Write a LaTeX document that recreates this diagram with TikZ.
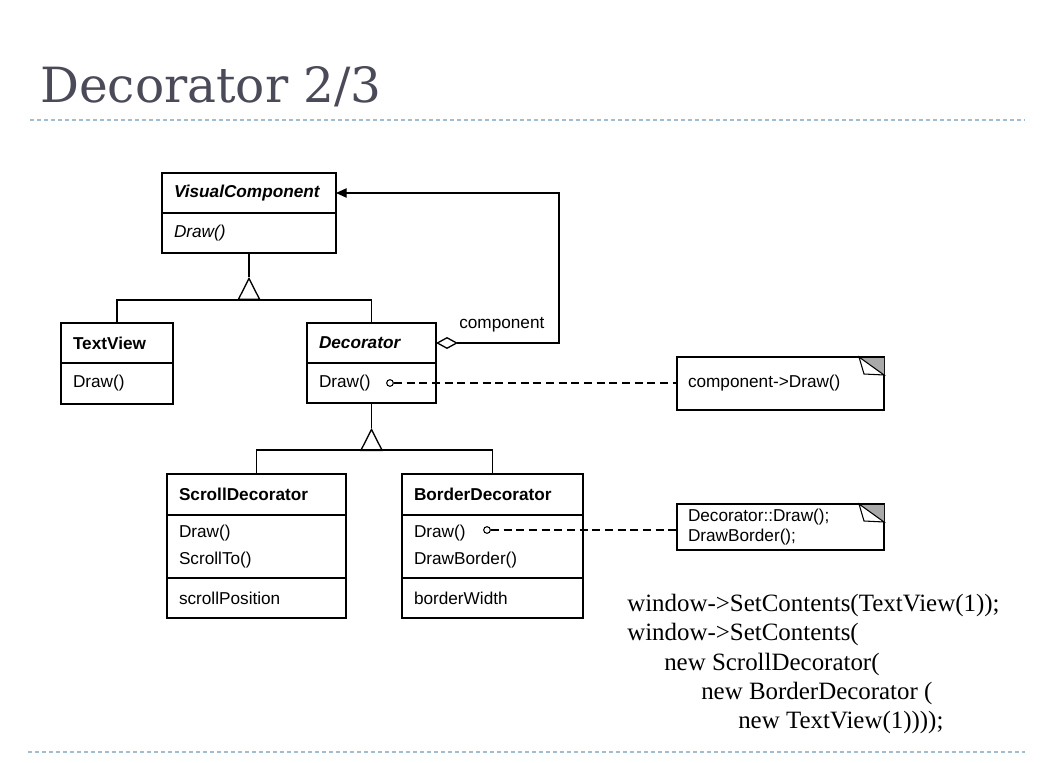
\documentclass[tikz,border=0pt]{standalone}
\usepackage{fontspec}
\setmainfont{Liberation Serif}
\setsansfont{Liberation Sans}
\newfontfamily\titlefont{DejaVu Serif}
\usetikzlibrary{arrows.meta,positioning,shapes.multipart}
\usepackage{xcolor}
\definecolor{titlegray}{HTML}{4A4A58}
\definecolor{rulecolor}{HTML}{A3BDD0}
\definecolor{cornergray}{HTML}{A9A9A9}

\tikzset{
    classpart/.style 2 args={
        rectangle,
        draw,
        line width=1pt,
        outer sep=0pt,
        inner xsep=9pt,
        inner ysep=0pt,
        anchor=north west,
        minimum width=#1*0.75pt,
        minimum height=#2*0.75pt,
        text width=#1*0.75pt-18pt,
        align=left,
        font=\sffamily\fontsize{12.9}{20}\selectfont
    },
    notebox/.style={
        rectangle,
        draw,
        line width=1pt,
        outer sep=0pt,
        inner xsep=8.25pt,
        inner ysep=0pt,
        anchor=north west,
        minimum width=155.25pt,
        text width=138.75pt,
        align=left,
        font=\sffamily\fontsize{12.9}{15}\selectfont
    },
    calldot/.style={circle, draw, line width=0.8pt, fill=white, minimum size=5pt, inner sep=0pt},
    noteline/.style={line width=1pt, dash pattern=on 6pt off 3.5pt},
    inherit/.style={line width=1pt, arrows={-Triangle[open,length=17.25pt,width=17.25pt]}},
    aggregation/.style={line width=1pt, arrows={Diamond[open,length=16.5pt,width=9pt]-Triangle[length=8pt,width=7pt]}},
    slide_rule/.style={rulecolor, line width=0.8pt, dash pattern=on 3pt off 2.25pt}
}

\begin{document}
\begin{tikzpicture}[x=0.75pt, y=-0.75pt]
    \useasboundingbox (0,0) rectangle (1054,763);

    % slide title and rules
    \node (slide_title) [anchor=base west, inner sep=0pt, text=titlegray, font=\titlefont\fontsize{36.4}{40}\selectfont] at (40,103) {Decorator 2/3};
    \coordinate (top_rule_start) at (30,120);
    \coordinate (top_rule_end) at (1025,120);
    \coordinate (bottom_rule_start) at (28,752);
    \coordinate (bottom_rule_end) at (1025,752);
    \draw[slide_rule] (top_rule_start) -- (top_rule_end);
    \draw[slide_rule] (bottom_rule_start) -- (bottom_rule_end);

    % classes
    \node (vc_name) [classpart={174}{40}] at (162,173) {\bfseries\itshape VisualComponent};
    \node (vc_ops) [classpart={174}{40}] at (vc_name.south west) {\itshape Draw()};

    \node (tv_name) [classpart={112}{40}] at (61,323) {\bfseries TextView};
    \node (tv_ops) [classpart={112}{41}] at (tv_name.south west) {Draw()};

    \node (dec_name) [classpart={129}{40}] at (307,323) {\bfseries\itshape Decorator};
    \node (dec_ops) [classpart={129}{40}] at (dec_name.south west) {Draw()};

    \node (sd_name) [classpart={179}{41}] at (167,474) {\bfseries ScrollDecorator};
    \node (sd_ops) [classpart={179}{63}] at (sd_name.south west) {Draw()\\ScrollTo()};
    \node (sd_attrs) [classpart={179}{40}] at (sd_ops.south west) {scrollPosition};

    \node (bd_name) [classpart={181}{41}] at (402,474) {\bfseries BorderDecorator};
    \node (bd_ops) [classpart={181}{63}] at (bd_name.south west) {Draw()\\DrawBorder()};
    \node (bd_attrs) [classpart={181}{40}] at (bd_ops.south west) {borderWidth};

    % notes
    \node (draw_note) [notebox, minimum height=39.75pt] at (677,357) {component->Draw()};
    \node (border_note) [notebox, minimum height=34.5pt] at (677,504) {Decorator::Draw();\\DrawBorder();};
    \foreach \n in {draw_note, border_note} {
        \fill[cornergray] (\n.north east) -- ++(-25,0) -- ++(25,18) -- cycle;
        \draw[line width=0.8pt, fill=white] (\n.north east) ++(-25,0) -- ++(5,17) -- ++(20,1) -- cycle;
        \draw[line width=1pt] (\n.north east) -- ++(-25,0);
    }

    % inheritance
    \coordinate (vc_fork) at (vc_ops.south |- 0,300);
    \coordinate (vc_tip) at (vc_ops.south |- 0,277);
    \draw[line width=1pt] (vc_ops.south) -- (vc_tip);
    \draw[inherit] (vc_fork) -- (vc_tip);
    \draw[line width=1pt] (tv_name.north) |- (vc_fork) -| (dec_name.north);

    \coordinate (dec_fork) at (dec_ops.south |- 0,450);
    \coordinate (dec_tip) at (dec_ops.south |- 0,428);
    \draw[line width=1pt] (dec_ops.south) -- (dec_tip);
    \draw[inherit] (dec_fork) -- (dec_tip);
    \draw[line width=1pt] (sd_name.north) |- (dec_fork) -| (bd_name.north);

    % aggregation
    \draw[aggregation] (dec_name.east) -- ++(123,0) |- (vc_name.east);
    \node (component_label) [anchor=west, inner sep=0pt, font=\sffamily\fontsize{12.9}{15}\selectfont] at (459,325) {component};

    % note connectors
    \node (dec_dot) [calldot] at (390,383) {};
    \draw[noteline] (dec_dot) -- (dec_dot -| draw_note.west);
    \node (bd_dot) [calldot] at (487,530) {};
    \draw[noteline] (bd_dot) -- (bd_dot -| border_note.west);

    % client code
    \node (client_code) [anchor=west, inner sep=0pt, align=left, font=\rmfamily\fontsize{18.7}{22.1}\selectfont] at (627,664) {
        window->SetContents(TextView(1));\\
        window->SetContents(\\
        \hspace*{27.75pt}new ScrollDecorator(\\
        \hspace*{55.5pt}new BorderDecorator (\\
        \hspace*{83.25pt}new TextView(1))));
    };
\end{tikzpicture}
\end{document}
